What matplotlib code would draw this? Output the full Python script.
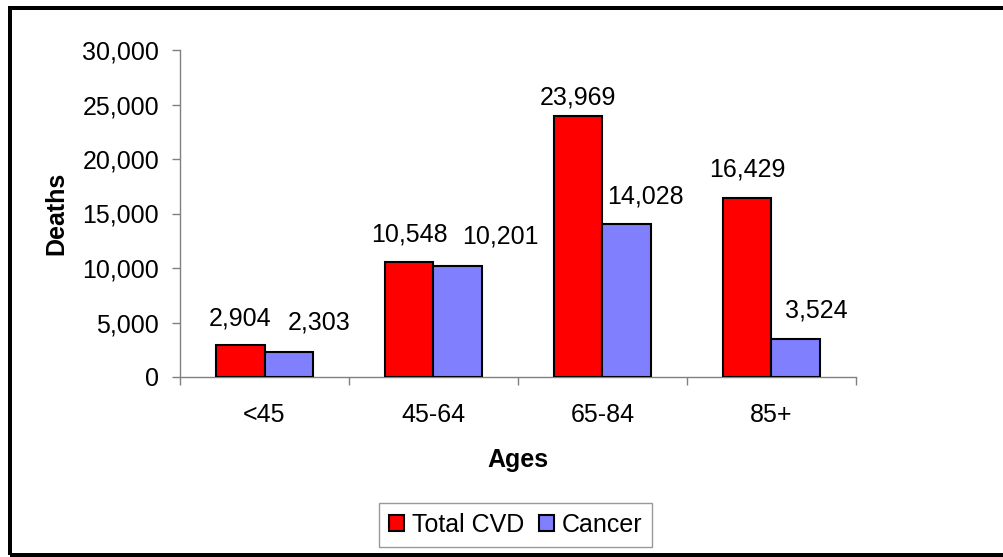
import matplotlib
matplotlib.use("Agg")
import matplotlib.pyplot as plt
from matplotlib.patches import Rectangle, Patch
from matplotlib.ticker import FuncFormatter, FixedLocator, NullFormatter

categories = ["<45", "45-64", "65-84", "85+"]
total_cvd = [2904, 10548, 23969, 16429]
cancer = [2303, 10201, 14028, 3524]
series_names = ["Total CVD", "Cancer"]

plt.rcParams['font.family'] = ['Liberation Sans', 'DejaVu Sans']

W, H = 1004, 557
FS = 18
fig = plt.figure(figsize=(W / 100, H / 100), dpi=100)

ax = fig.add_axes([180 / W, (H - 377) / H, 676 / W, 327 / H])

red = "#FF0000"
blue = "#8080FF"
bw = 1 / 3.5
x = list(range(len(categories)))

ax.bar([i - bw / 2 for i in x], total_cvd, width=bw, color=red,
       edgecolor="black", linewidth=1.5, zorder=3)
ax.bar([i + bw / 2 for i in x], cancer, width=bw, color=blue,
       edgecolor="black", linewidth=1.5, zorder=3)

ax.set_xlim(-0.5, len(categories) - 0.5)
ax.set_ylim(0, 30000)
ax.set_yticks(range(0, 30001, 5000))
ax.yaxis.set_major_formatter(FuncFormatter(lambda v, p: f"{int(v):,}"))

ax.xaxis.set_major_locator(FixedLocator([i - 0.5 for i in range(len(categories) + 1)]))
ax.xaxis.set_major_formatter(NullFormatter())
ax.xaxis.set_minor_locator(FixedLocator(x))
ax.set_xticklabels(categories, minor=True)
ax.tick_params(axis='x', which='minor', length=0, pad=19, labelsize=FS)
ax.tick_params(axis='x', which='major', length=6, width=1, color="#808080", direction='out')
ax.tick_params(axis='y', length=6, width=1, color="#808080", direction='out', pad=9, labelsize=FS)

for s in ["top", "right"]:
    ax.spines[s].set_visible(False)
for s in ["left", "bottom"]:
    ax.spines[s].set_color("#808080")
    ax.spines[s].set_linewidth(1)

ax.set_ylabel("Deaths", fontsize=FS, fontweight="bold", labelpad=10)
ax.set_xlabel("Ages", fontsize=FS, fontweight="bold", labelpad=15)

red_dx = [0, 0, 0, 0]
red_dy = [20, 21, 11, 21]
blue_dx = [30, 43, 19, 21]
blue_dy = [22, 22, 21, 21]
for i, v in enumerate(total_cvd):
    ax.annotate(f"{v:,}", (i - bw / 2, v), xytext=(red_dx[i], red_dy[i]),
                textcoords="offset pixels", ha="center", va="baseline", fontsize=FS)
for i, v in enumerate(cancer):
    ax.annotate(f"{v:,}", (i + bw / 2, v), xytext=(blue_dx[i], blue_dy[i]),
                textcoords="offset pixels", ha="center", va="baseline", fontsize=FS)

handles = [Patch(facecolor=red, edgecolor="black", linewidth=1.5),
           Patch(facecolor=blue, edgecolor="black", linewidth=1.5)]
leg = fig.legend(handles, series_names, loc="center",
                 bbox_to_anchor=(515.5 / W, 1 - 525 / H), ncol=2, fontsize=FS,
                 frameon=True, fancybox=False, edgecolor="#808080",
                 handlelength=0.6, handleheight=0.6, handletextpad=0.3,
                 columnspacing=0.6, borderpad=0.4)
leg.get_frame().set_linewidth(1)

fig.patches.append(Rectangle((10 / W, (H - 555) / H), 1020 / W, (555 - 8) / H,
                             transform=fig.transFigure, fill=False,
                             edgecolor="black", linewidth=4 * 0.72, zorder=10))

fig.savefig("out.png", dpi=100)
